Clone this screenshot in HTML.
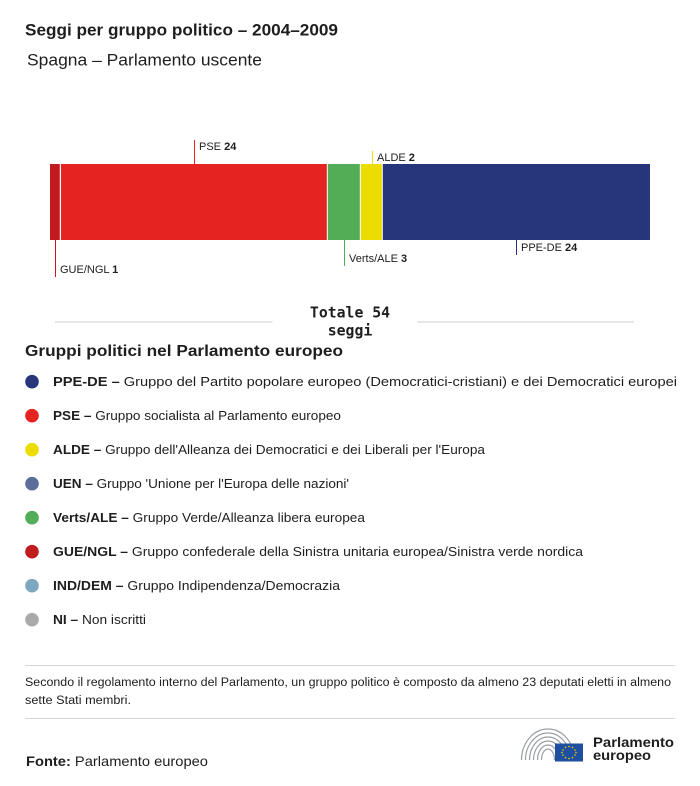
<!DOCTYPE html>
<html>
<head>
<meta charset="utf-8">
<style>
  html, body { margin:0; padding:0; background:#fff; }
  svg { display:block; }
  text { font-family: "Liberation Sans", "DejaVu Sans", sans-serif; fill:#1e1e1e; }
  .mono { font-family: "DejaVu Sans Mono", "Liberation Mono", monospace; font-weight:bold; }
  .b { font-weight:bold; }
</style>
</head>
<body>
<svg width="700" height="786" viewBox="0 0 700 786" xmlns="http://www.w3.org/2000/svg">
  <rect width="700" height="786" fill="#fff"/>

  <!-- Titles -->
  <text x="25" y="35.5" font-size="17" class="b" textLength="313" lengthAdjust="spacingAndGlyphs">Seggi per gruppo politico – 2004–2009</text>
  <text x="27" y="65.5" font-size="17" fill="#222" textLength="235" lengthAdjust="spacingAndGlyphs">Spagna – Parlamento uscente</text>

  <!-- Bar -->
  <rect x="50" y="164" width="9.8" height="76" fill="#c21b1f"/>
  <rect x="61" y="164" width="265.8" height="76" fill="#e52421"/>
  <rect x="327.8" y="164" width="32" height="76" fill="#52ad56"/>
  <rect x="360.9" y="164" width="20.9" height="76" fill="#ecdc00"/>
  <rect x="382.8" y="164" width="267.2" height="76" fill="#27357b"/>

  <!-- Ticks -->
  <line x1="194.5" y1="140" x2="194.5" y2="164" stroke="#e52421" stroke-width="1"/>
  <line x1="372.5" y1="151" x2="372.5" y2="164" stroke="#ecdc00" stroke-width="1"/>
  <line x1="55.5" y1="240" x2="55.5" y2="277" stroke="#c21b1f" stroke-width="1"/>
  <line x1="344.5" y1="240" x2="344.5" y2="266" stroke="#52ad56" stroke-width="1"/>
  <line x1="516.5" y1="240" x2="516.5" y2="255" stroke="#27357b" stroke-width="1"/>

  <!-- Bar labels -->
  <text x="199" y="150" font-size="11">PSE <tspan class="b">24</tspan></text>
  <text x="377" y="161" font-size="11">ALDE <tspan class="b">2</tspan></text>
  <text x="60" y="273" font-size="11">GUE/NGL <tspan class="b">1</tspan></text>
  <text x="349" y="262" font-size="11">Verts/ALE <tspan class="b">3</tspan></text>
  <text x="521" y="251" font-size="11">PPE-DE <tspan class="b">24</tspan></text>

  <!-- Total -->
  <line x1="55" y1="322" x2="272.5" y2="322" stroke="#cccccc" stroke-width="1"/>
  <line x1="417.5" y1="322" x2="634" y2="322" stroke="#cccccc" stroke-width="1"/>
  <text x="350" y="317.5" font-size="14.8" class="mono" text-anchor="middle" fill="#222">Totale 54</text>
  <text x="350" y="335.5" font-size="14.8" class="mono" text-anchor="middle" fill="#222">seggi</text>

  <!-- Legend heading -->
  <text x="25" y="356" font-size="16" class="b" textLength="318" lengthAdjust="spacingAndGlyphs">Gruppi politici nel Parlamento europeo</text>

  <!-- Legend -->
  <circle cx="32" cy="381.7" r="6.8" fill="#27357b"/>
  <text x="53" y="386" font-size="13" textLength="624" lengthAdjust="spacingAndGlyphs"><tspan class="b">PPE-DE – </tspan>Gruppo del Partito popolare europeo (Democratici-cristiani) e dei Democratici europei</text>

  <circle cx="32" cy="415.7" r="6.8" fill="#e52421"/>
  <text x="53" y="420" font-size="13" textLength="288" lengthAdjust="spacingAndGlyphs"><tspan class="b">PSE – </tspan>Gruppo socialista al Parlamento europeo</text>

  <circle cx="32" cy="449.7" r="6.8" fill="#ecdc00"/>
  <text x="53" y="454" font-size="13" textLength="432" lengthAdjust="spacingAndGlyphs"><tspan class="b">ALDE – </tspan>Gruppo dell'Alleanza dei Democratici e dei Liberali per l'Europa</text>

  <circle cx="32" cy="483.7" r="6.8" fill="#5b6e9a"/>
  <text x="53" y="488" font-size="13" textLength="296" lengthAdjust="spacingAndGlyphs"><tspan class="b">UEN – </tspan>Gruppo 'Unione per l'Europa delle nazioni'</text>

  <circle cx="32" cy="517.7" r="6.8" fill="#52ad56"/>
  <text x="53" y="522" font-size="13" textLength="312" lengthAdjust="spacingAndGlyphs"><tspan class="b">Verts/ALE – </tspan>Gruppo Verde/Alleanza libera europea</text>

  <circle cx="32" cy="551.7" r="6.8" fill="#c21b1f"/>
  <text x="53" y="556" font-size="13" textLength="530" lengthAdjust="spacingAndGlyphs"><tspan class="b">GUE/NGL – </tspan>Gruppo confederale della Sinistra unitaria europea/Sinistra verde nordica</text>

  <circle cx="32" cy="585.7" r="6.8" fill="#7ea7c1"/>
  <text x="53" y="590" font-size="13" textLength="287" lengthAdjust="spacingAndGlyphs"><tspan class="b">IND/DEM – </tspan>Gruppo Indipendenza/Democrazia</text>

  <circle cx="32" cy="619.7" r="6.8" fill="#aaaaaa"/>
  <text x="53" y="624" font-size="13" textLength="93" lengthAdjust="spacingAndGlyphs"><tspan class="b">NI – </tspan>Non iscritti</text>

  <!-- Note -->
  <line x1="25" y1="665.5" x2="675" y2="665.5" stroke="#d6d6d6" stroke-width="1"/>
  <text x="25" y="686" font-size="11.5" fill="#222" textLength="646" lengthAdjust="spacingAndGlyphs">Secondo il regolamento interno del Parlamento, un gruppo politico è composto da almeno 23 deputati eletti in almeno</text>
  <text x="25" y="704" font-size="11.5" fill="#222" textLength="106" lengthAdjust="spacingAndGlyphs">sette Stati membri.</text>
  <line x1="25" y1="718.5" x2="675" y2="718.5" stroke="#d6d6d6" stroke-width="1"/>

  <!-- Fonte -->
  <text x="26" y="766" font-size="14" fill="#111" textLength="182" lengthAdjust="spacingAndGlyphs"><tspan class="b">Fonte:</tspan> Parlamento europeo</text>

  <!-- Logo -->
  <g fill="none" stroke="#9aa0a8" stroke-width="1.2">
    <path d="M521.5 760 A26.5 31 0 0 1 574.5 760"/>
    <path d="M525.5 760 A22.5 27 0 0 1 570.5 760"/>
    <path d="M529.5 760 A18.5 23 0 0 1 566.5 760"/>
    <path d="M533.5 760 A14.5 19 0 0 1 562.5 760"/>
    <path d="M537.5 760 A10.5 15 0 0 1 558.5 760"/>
    <path d="M541.5 760 A6.5 11 0 0 1 554.5 760"/>
  </g>
  <rect x="555" y="743.5" width="28" height="18" fill="#1f4fa0"/>
  <g fill="#f2d000">
    <circle cx="569" cy="746.5" r="0.8"/>
    <circle cx="572.5" cy="747.4" r="0.8"/>
    <circle cx="575" cy="750" r="0.8"/>
    <circle cx="576" cy="752.5" r="0.8"/>
    <circle cx="575" cy="755" r="0.8"/>
    <circle cx="572.5" cy="757.6" r="0.8"/>
    <circle cx="569" cy="758.5" r="0.8"/>
    <circle cx="565.5" cy="757.6" r="0.8"/>
    <circle cx="563" cy="755" r="0.8"/>
    <circle cx="562" cy="752.5" r="0.8"/>
    <circle cx="563" cy="750" r="0.8"/>
    <circle cx="565.5" cy="747.4" r="0.8"/>
  </g>
  <text x="593" y="747" font-size="14" class="b" fill="#5f6b78" textLength="81" lengthAdjust="spacingAndGlyphs">Parlamento</text>
  <text x="593" y="760" font-size="14" class="b" fill="#5f6b78" textLength="58" lengthAdjust="spacingAndGlyphs">europeo</text>
</svg>
</body>
</html>
